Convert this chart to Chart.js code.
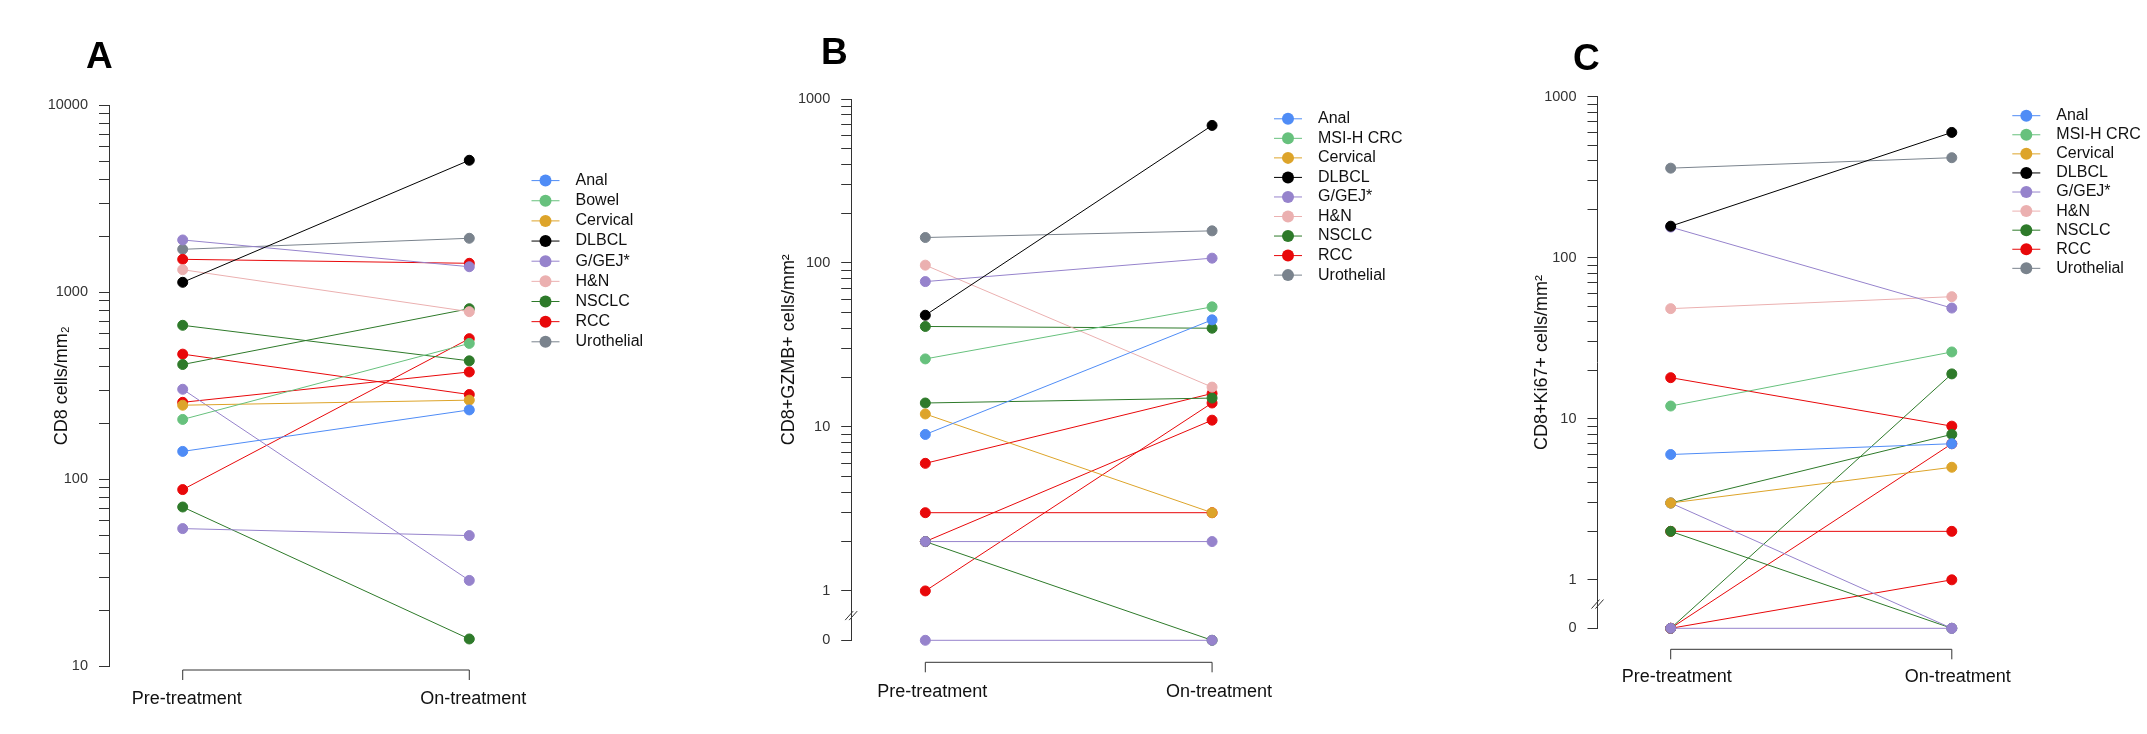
<!DOCTYPE html>
<html>
<head>
<meta charset="utf-8">
<title>CD8 paired pre/on-treatment</title>
<script src="https://cdn.jsdelivr.net/npm/chart.js@4.4.1/dist/chart.umd.min.js"></script>
<style>
  html, body { margin: 0; padding: 0; background: #fff; }
  body { width: 2147px; height: 734px; position: relative; overflow: hidden; }
  canvas { position: absolute; top: 0; }
</style>
</head>
<body>
<canvas id="chartA" width="720" height="734" style="left:0px"></canvas>
<canvas id="chartB" width="720" height="734" style="left:720px"></canvas>
<canvas id="chartC" width="687" height="734" style="left:1460px"></canvas>
<script>
document.addEventListener("DOMContentLoaded", function () {
  const FONT = "'Liberation Sans', Arial, 'DejaVu Sans', sans-serif";
  Chart.defaults.font.family = FONT;

  // x categories
  const TIMEPOINTS = ["Pre-treatment", "On-treatment"];

  // Panel A - CD8 cells/mm2 (one entry per patient)
  const A_LEGEND = ["Anal", "Bowel", "Cervical", "DLBCL", "G/GEJ*", "H&N", "NSCLC", "RCC", "Urothelial"];
  const A_TYPE = ["Anal", "Bowel", "Cervical", "DLBCL", "G/GEJ*", "G/GEJ*", "G/GEJ*", "H&N",
    "NSCLC", "NSCLC", "NSCLC", "RCC", "RCC", "RCC", "RCC", "Urothelial"];
  const A_PRE = [141, 209, 249, 1131, 1905, 303, 54.5, 1321, 666, 411, 71.1, 1501, 467, 258, 88.1, 1698];
  const A_ON = [235, 533, 265, 5082, 1370, 28.8, 50.0, 788, 430, 817, 14.0, 1429, 284, 375, 565, 1945];
  const A_TICKS = [10, 100, 1000, 10000];

  // Panel B - CD8+GZMB+ cells/mm2
  const B_LEGEND = ["Anal", "MSI-H CRC", "Cervical", "DLBCL", "G/GEJ*", "H&N", "NSCLC", "RCC", "Urothelial"];
  const B_TYPE = ["Anal", "MSI-H CRC", "Cervical", "DLBCL", "G/GEJ*", "G/GEJ*", "G/GEJ*", "H&N",
    "NSCLC", "NSCLC", "NSCLC", "RCC", "RCC", "RCC", "RCC", "Urothelial"];
  const B_PRE = [9, 26, 12, 48, 77, 2, 0, 97, 41, 14, 2, 6, 3, 2, 1, 143];
  const B_ON = [45, 54, 3, 690, 107, 2, 0, 17.5, 40, 15, 0, 16, 3, 11, 14, 157];
  const B_TICKS = [0, 1, 10, 100, 1000];

  // Panel C - CD8+Ki67+ cells/mm2
  const C_LEGEND = ["Anal", "MSI-H CRC", "Cervical", "DLBCL", "G/GEJ*", "H&N", "NSCLC", "RCC", "Urothelial"];
  const C_TYPE = ["Anal", "MSI-H CRC", "Cervical", "DLBCL", "G/GEJ*", "G/GEJ*", "G/GEJ*", "H&N",
    "NSCLC", "NSCLC", "NSCLC", "RCC", "RCC", "RCC", "RCC", "Urothelial"];
  const C_PRE = [6, 12, 3, 157, 155, 3, 0, 48.3, 3, 2, 0, 18, 2, 0, 0, 360];
  const C_ON = [7, 26, 5, 600, 48.7, 0, 0, 57.3, 8, 0, 19, 9, 2, 7, 1, 418];
  const C_TICKS = [0, 1, 10, 100, 1000];

  const TYPE_COLORS = {
    "Anal": "#4F8CF6",
    "Bowel": "#67C17D",
    "MSI-H CRC": "#67C17D",
    "Cervical": "#DDA42A",
    "DLBCL": "#000000",
    "G/GEJ*": "#9683CC",
    "H&N": "#EBB0B0",
    "NSCLC": "#2E7A2A",
    "RCC": "#E8080A",
    "Urothelial": "#7A838D",
  };

  // zero values sit below the axis break, at this log position
  const ZERO_AT = 0.5;
  const plotY = (v) => (v === 0 ? ZERO_AT : v);

  function logTicks(majors) {
    const out = [];
    majors.forEach((m, i) => {
      if (m === 0) { out.push({ value: ZERO_AT }); return; }
      out.push({ value: m });
      if (i < majors.length - 1) {
        for (let k = 2; k <= 9; k++) out.push({ value: m * k });
      }
    });
    return out;
  }

  // legend + bracket x-axis + axis break + panel letter
  const panelExtras = {
    id: "panelExtras",
    afterDraw(chart, args, opts) {
      const ctx = chart.ctx;
      const xs = chart.scales.x, ys = chart.scales.y;
      ctx.save();
      ctx.lineWidth = 1;
      ctx.strokeStyle = "#333";
      // bracket axis
      const x0 = xs.getPixelForValue(0), x1 = xs.getPixelForValue(1);
      const yb = chart.chartArea.bottom + opts.bracketGap;
      ctx.beginPath();
      ctx.moveTo(x0, yb + opts.bracketTick);
      ctx.lineTo(x0, yb);
      ctx.lineTo(x1, yb);
      ctx.lineTo(x1, yb + opts.bracketTick);
      ctx.stroke();
      // axis break "//"
      if (opts.axisBreak) {
        const by = ys.getPixelForValue(Math.sqrt(ZERO_AT));
        const bx = chart.chartArea.left;
        [-2, 2].forEach((off) => {
          ctx.beginPath();
          ctx.moveTo(bx + off - 4, by + 4.5);
          ctx.lineTo(bx + off + 4, by - 4.5);
          ctx.stroke();
        });
      }
      // panel letter
      ctx.fillStyle = "#000";
      ctx.font = "bold 37px " + FONT;
      ctx.textAlign = "left";
      ctx.textBaseline = "alphabetic";
      ctx.fillText(opts.letter, opts.letterX, opts.letterY);
      // legend
      ctx.font = "16px " + FONT;
      ctx.textBaseline = "middle";
      opts.legend.forEach((name, i) => {
        const c = TYPE_COLORS[name];
        const y = opts.legendY + i * opts.legendGap;
        ctx.strokeStyle = c;
        ctx.beginPath();
        ctx.moveTo(opts.legendX - 14, y);
        ctx.lineTo(opts.legendX + 14, y);
        ctx.stroke();
        ctx.fillStyle = c;
        ctx.beginPath();
        ctx.arc(opts.legendX, y, 6, 0, Math.PI * 2);
        ctx.fill();
        ctx.fillStyle = "#111";
        ctx.fillText(name, opts.legendX + 30, y);
      });
      ctx.restore();
    },
  };

  function makeChart(id, cfg) {
    const datasets = cfg.types.map((t, i) => ({
      label: t,
      data: [
        { x: 0, y: plotY(cfg.pre[i]) },
        { x: 1, y: plotY(cfg.on[i]) },
      ],
      borderColor: TYPE_COLORS[t],
      backgroundColor: TYPE_COLORS[t],
      pointBackgroundColor: TYPE_COLORS[t],
      pointBorderColor: TYPE_COLORS[t],
      borderWidth: 1,
      pointRadius: 5,
      pointBorderWidth: 1,
      clip: false,
    }));
    const majors = cfg.ticks;
    return new Chart(document.getElementById(id).getContext("2d"), {
      type: "line",
      data: { datasets: datasets },
      plugins: [panelExtras],
      options: {
        responsive: false,
        animation: false,
        layout: { padding: { top: cfg.top, right: cfg.right, bottom: 0, left: 0 } },
        scales: {
          x: {
            type: "linear",
            min: -cfg.side,
            max: 1 + cfg.side,
            afterBuildTicks: (s) => { s.ticks = [{ value: 0 }, { value: 1 }]; },
            afterFit: (s) => { s.height = cfg.xHeight; },
            grid: { display: false, drawTicks: false },
            border: { display: false },
            ticks: {
              padding: cfg.xPad,
              labelOffset: cfg.labelOffset,
              maxRotation: 0,
              color: "#111",
              font: { size: 18 },
              callback: (v) => TIMEPOINTS[v],
            },
          },
          y: {
            type: "logarithmic",
            min: majors[0] === 0 ? ZERO_AT : majors[0],
            max: majors[majors.length - 1],
            afterBuildTicks: (s) => { s.ticks = logTicks(majors); },
            afterFit: (s) => { s.width = cfg.yWidth; },
            grid: { drawOnChartArea: false, drawTicks: true, tickLength: 10, color: "#333" },
            border: { display: true, color: "#333", width: 1 },
            ticks: {
              autoSkip: false,
              padding: 11,
              color: "#333",
              font: { size: 14.5 },
              callback: (v) => {
                if (v === ZERO_AT) return "0";
                return majors.includes(v) ? String(v) : "";
              },
            },
            title: {
              display: true,
              text: cfg.yTitle,
              color: "#111",
              font: { size: 18 },
              padding: { top: cfg.titlePad, bottom: 0 },
            },
          },
        },
        plugins: {
          legend: { display: false },
          tooltip: { enabled: false },
          panelExtras: {
            letter: cfg.letter,
            letterX: cfg.letterX,
            letterY: cfg.letterY,
            legend: cfg.legend,
            legendX: cfg.legendX,
            legendY: cfg.legendY,
            legendGap: cfg.legendGap,
            bracketGap: cfg.bracketGap,
            bracketTick: 10,
            axisBreak: cfg.ticks[0] === 0,
          },
        },
      },
    });
  }

  makeChart("chartA", {
    types: A_TYPE, pre: A_PRE, on: A_ON, ticks: A_TICKS, legend: A_LEGEND,
    yTitle: "CD8 cells/mm\u2082",
    top: 105.3, right: 177, yWidth: 109, xHeight: 67.7, side: 0.2572,
    xPad: 22, labelOffset: 4, titlePad: 51,
    letter: "A", letterX: 86, letterY: 68,
    legendX: 545.5, legendY: 180.6, legendGap: 20.15, bracketGap: 3.7,
  });

  makeChart("chartB", {
    types: B_TYPE, pre: B_PRE, on: B_ON, ticks: B_TICKS, legend: B_LEGEND,
    // leading spaces nudge this title up, it sits above the axis centre in the original
    yTitle: "        CD8+GZMB+ cells/mm\u00B2",
    top: 99, right: 153.8, yWidth: 131.2, xHeight: 93.7, side: 0.2585,
    xPad: 41, labelOffset: 7, titlePad: 58,
    letter: "B", letterX: 101, letterY: 64,
    legendX: 568, legendY: 118.8, legendGap: 19.54, bracketGap: 22,
  });

  makeChart("chartC", {
    types: C_TYPE, pre: C_PRE, on: C_ON, ticks: C_TICKS, legend: C_LEGEND,
    yTitle: "CD8+Ki67+ cells/mm\u00B2",
    top: 96.7, right: 122, yWidth: 137.5, xHeight: 105.7, side: 0.2604,
    xPad: 38, labelOffset: 6, titlePad: 71,
    letter: "C", letterX: 113, letterY: 69.5,
    legendX: 566.3, legendY: 115.7, legendGap: 19.08, bracketGap: 21,
  });
});
</script>
</body>
</html>
